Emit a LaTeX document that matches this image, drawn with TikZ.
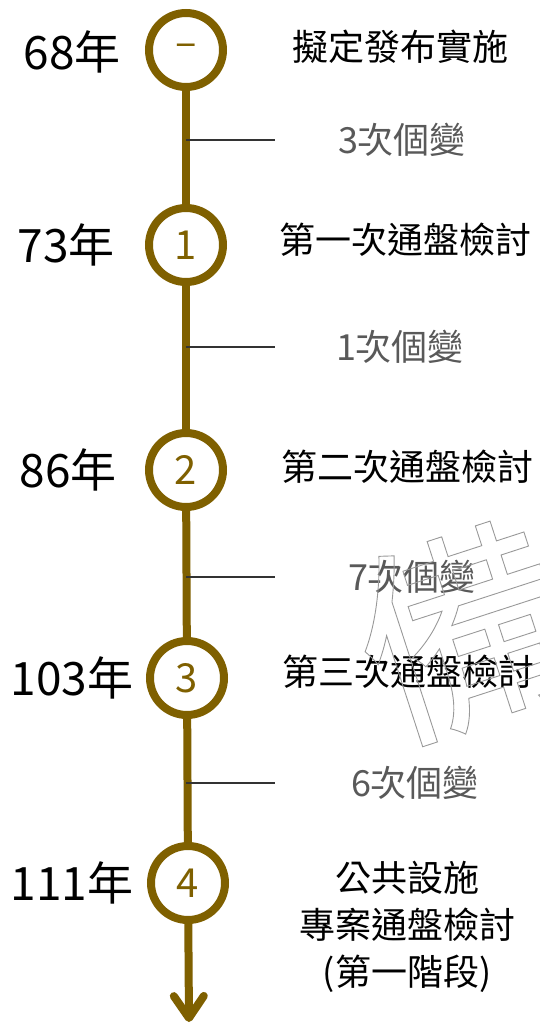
\documentclass[tikz,border=0pt]{standalone}
\usepackage{fontspec}
\setmainfont{Noto Sans CJK TC}
\usetikzlibrary{arrows.meta}
\definecolor{timegold}{RGB}{127,96,0}
\definecolor{notegray}{RGB}{89,89,89}
\newcommand{\outlined}[1]{%
  \special{pdf:literal direct 0.9 w 0.6 G 1 Tr}#1\special{pdf:literal direct 0 Tr 0 G}}
\tikzstyle{stage} = [
  circle,
  draw=timegold,
  line width=8pt,
  fill=white,
  minimum size=74pt,
  inner sep=0pt,
  text=timegold,
  font=\fontsize{40}{44}\selectfont,
]
\tikzstyle{year} = [
  font=\fontsize{46}{50}\selectfont,
]
\tikzstyle{event} = [
  align=center,
  font=\fontsize{36}{47}\selectfont,
]
\tikzstyle{change} = [
  text=notegray,
  font=\fontsize{36}{40}\selectfont,
]
\tikzstyle{tick} = [
  draw=black!80,
  line width=1.8pt,
]
\tikzstyle{timeline} = [
  draw=timegold,
  line width=8pt,
]

\begin{document}
\begin{tikzpicture}[
    x=1pt,
    y=-1pt,
  ]
  \useasboundingbox (0,0) rectangle (539,1027);
  % stages on the line
  \node[stage] (s0) at (186,50) {–};
  \node[stage] (s1) at (186,245) {1};
  \node[stage] (s2) at (186,470) {2};
  \node[stage] (s3) at (187,678) {3};
  \node[stage] (s4) at (188,883) {4};
  \coordinate (tip) at (189,1022);
  \path[timeline] (s0) -- (s1);
  \path[timeline] (s1) -- (s2);
  \path[timeline] (s2) -- (s3);
  \path[timeline] (s3) -- (s4);
  \path[
    timeline,
    -{Straight Barb[length=22pt,width=30pt,round]},
  ] (s4) -- (tip);
  % years
  \node[year] (y0) at (72,52) {68年};
  \node[year] (y1) at (66,245) {73年};
  \node[year] (y2) at (68,470) {86年};
  \node[year] (y3) at (72,678) {103年};
  \node[year] (y4) at (72,883) {111年};
  % events
  \node[event] (e0) at (400,47) {擬定發布實施};
  \node[event] (e1) at (405,240) {第一次通盤檢討};
  \node[event] (e2) at (407,467) {第二次通盤檢討};
  \node[event] (e3) at (408,672) {第三次通盤檢討};
  \node[event] (e4) at (407,927) {公共設施\\專案通盤檢討\\(第一階段)};
  % changes between stages
  \foreach \name/\ty/\cx/\txt in {
      c1/140/402/3次個變,
      c2/347/400/1次個變,
      c3/577/412/7次個變,
      c4/783/415/6次個變} {
    \coordinate (\name a) at (186,\ty);
    \coordinate (\name b) at (275,\ty);
    \path[tick] (\name a) -- (\name b);
    \node[change] (\name) at (\cx,\ty) {\txt};
  }
  % watermark
  \node[
    rotate=18,
    font=\fontsize{212}{212}\selectfont,
  ] (mark) at (463,632) {\outlined{備}};
\end{tikzpicture}
\end{document}
